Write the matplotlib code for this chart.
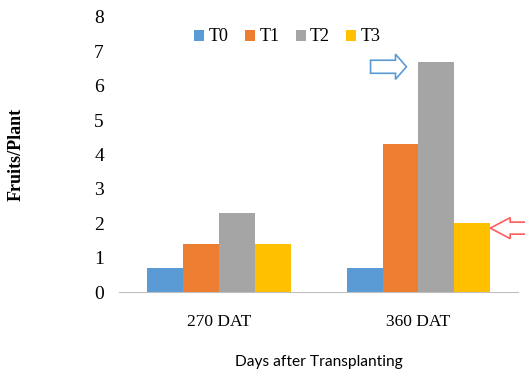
import numpy as np
import matplotlib
matplotlib.use('Agg')
import matplotlib.pyplot as plt
from matplotlib.patches import FancyArrow

# 数据
categories = ['270 DAT', '360 DAT']
treatments = ['T0', 'T1', 'T2', 'T3']
t0 = [0.7, 0.7]
t1 = [1.4, 4.3]
t2 = [2.3, 6.7]
t3 = [1.4, 2.0]
colors = ['#5B9BD5', '#ED7D31', '#A5A5A5', '#FFC000']

plt.rcParams['font.family'] = ['Liberation Serif', 'DejaVu Serif']

fig = plt.figure(figsize=(5.25, 3.75), dpi=100)
ax = fig.add_axes([0.227, 0.221, 0.76, 0.734])

x = np.arange(len(categories))
w = 0.18
series = [t0, t1, t2, t3]
for i, (vals, name) in enumerate(zip(series, treatments)):
    ax.bar(x + (i - 1.5) * w, vals, w, color=colors[i], label=name)

ax.set_xlim(-0.5, 1.5)
ax.set_ylim(0, 8)
ax.set_yticks(range(0, 9))
ax.set_xticks(x)
ax.set_xticklabels(categories, fontsize=12.5)
ax.tick_params(axis='y', labelsize=14, length=0, pad=11)
ax.tick_params(axis='x', length=0, pad=16)
for s in ['top', 'right', 'left']:
    ax.spines[s].set_visible(False)
ax.spines['bottom'].set_color('#bfbfbf')

ax.set_ylabel('Fruits/Plant', fontsize=13, fontweight='bold', labelpad=50)
ax.set_xlabel('Days after Transplanting', fontsize=11.2, family=['Lato', 'DejaVu Sans'], labelpad=18)

ax.legend(loc='center', bbox_to_anchor=(0.422, 0.927), ncol=4, frameon=False,
          fontsize=13, handlelength=0.55, handleheight=0.55, handletextpad=0.25,
          columnspacing=0.9)

# 箭头标注
blue = FancyArrow(x[1] - 0.24, t2[1] - 0.15, 0.18, 0, width=0.38, head_width=0.73,
                  head_length=0.055, length_includes_head=True,
                  fc='white', ec='#5B9BD5', lw=1.2, clip_on=False)
ax.add_patch(blue)
red = FancyArrow(x[1] + 2 * w + 0.22, t3[1] - 0.14, -0.22, 0, width=0.35, head_width=0.61,
                 head_length=0.1, length_includes_head=True,
                 fc='white', ec='#FF5B5B', lw=1.2, clip_on=False)
ax.add_patch(red)

plt.savefig('out.png', dpi=100)
